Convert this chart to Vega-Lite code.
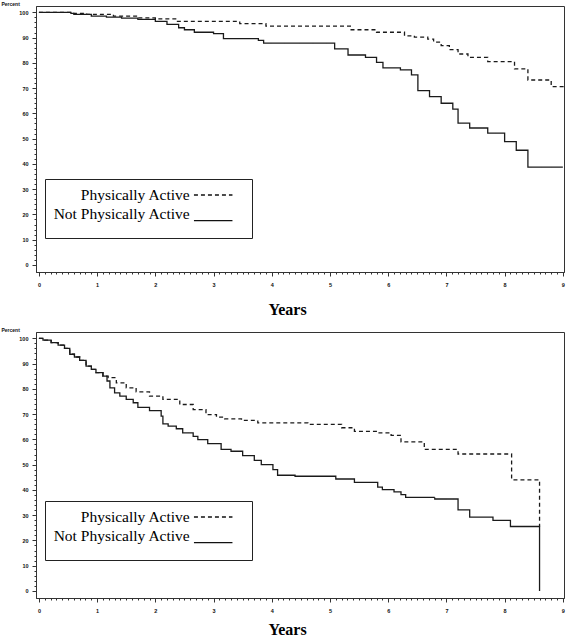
{
  "$schema": "https://vega.github.io/schema/vega-lite/v6.json",
  "background": "white",
  "padding": {"left": 0, "top": 0, "right": 0, "bottom": 0},
  "spacing": 60,
  "bounds": "flush",
  "resolve": {"legend": {"strokeDash": "independent"}},
  "datasets": {
    "top": [
      {"years": 0, "percent": 100, "group": "Physically Active"},
      {"years": 0.56, "percent": 99.6, "group": "Physically Active"},
      {"years": 0.82, "percent": 99.2, "group": "Physically Active"},
      {"years": 1.28, "percent": 98.5, "group": "Physically Active"},
      {"years": 1.69, "percent": 97.8, "group": "Physically Active"},
      {"years": 2.0, "percent": 97.4, "group": "Physically Active"},
      {"years": 2.38, "percent": 96.4, "group": "Physically Active"},
      {"years": 3.45, "percent": 95.5, "group": "Physically Active"},
      {"years": 3.9, "percent": 94.5, "group": "Physically Active"},
      {"years": 5.35, "percent": 93.1, "group": "Physically Active"},
      {"years": 5.8, "percent": 92.1, "group": "Physically Active"},
      {"years": 6.28, "percent": 90.7, "group": "Physically Active"},
      {"years": 6.45, "percent": 90.2, "group": "Physically Active"},
      {"years": 6.68, "percent": 89.4, "group": "Physically Active"},
      {"years": 6.78, "percent": 88.2, "group": "Physically Active"},
      {"years": 6.91, "percent": 86.8, "group": "Physically Active"},
      {"years": 7.05, "percent": 85.2, "group": "Physically Active"},
      {"years": 7.2, "percent": 83.5, "group": "Physically Active"},
      {"years": 7.37, "percent": 82.2, "group": "Physically Active"},
      {"years": 7.71, "percent": 80.5, "group": "Physically Active"},
      {"years": 8.17, "percent": 77.6, "group": "Physically Active"},
      {"years": 8.4, "percent": 73.2, "group": "Physically Active"},
      {"years": 8.8, "percent": 70.6, "group": "Physically Active"},
      {"years": 9.02, "percent": 70.6, "group": "Physically Active"},
      {"years": 0, "percent": 100, "group": "Not Physically Active"},
      {"years": 0.55, "percent": 99.6, "group": "Not Physically Active"},
      {"years": 0.6, "percent": 99.2, "group": "Not Physically Active"},
      {"years": 0.9, "percent": 98.5, "group": "Not Physically Active"},
      {"years": 1.16, "percent": 98.1, "group": "Not Physically Active"},
      {"years": 1.42, "percent": 97.7, "group": "Not Physically Active"},
      {"years": 1.7, "percent": 97.2, "group": "Not Physically Active"},
      {"years": 2.0, "percent": 96.4, "group": "Not Physically Active"},
      {"years": 2.2, "percent": 95.2, "group": "Not Physically Active"},
      {"years": 2.4, "percent": 93.9, "group": "Not Physically Active"},
      {"years": 2.5, "percent": 93.1, "group": "Not Physically Active"},
      {"years": 2.67, "percent": 92.1, "group": "Not Physically Active"},
      {"years": 3.0, "percent": 91.6, "group": "Not Physically Active"},
      {"years": 3.17, "percent": 89.6, "group": "Not Physically Active"},
      {"years": 3.77, "percent": 88.9, "group": "Not Physically Active"},
      {"years": 3.86, "percent": 87.8, "group": "Not Physically Active"},
      {"years": 5.08, "percent": 85.5, "group": "Not Physically Active"},
      {"years": 5.31, "percent": 83.1, "group": "Not Physically Active"},
      {"years": 5.61, "percent": 82.2, "group": "Not Physically Active"},
      {"years": 5.8, "percent": 80.2, "group": "Not Physically Active"},
      {"years": 5.91, "percent": 78.0, "group": "Not Physically Active"},
      {"years": 6.21, "percent": 77.2, "group": "Not Physically Active"},
      {"years": 6.4, "percent": 75.2, "group": "Not Physically Active"},
      {"years": 6.51, "percent": 69.0, "group": "Not Physically Active"},
      {"years": 6.71, "percent": 66.6, "group": "Not Physically Active"},
      {"years": 6.91, "percent": 64.0, "group": "Not Physically Active"},
      {"years": 7.11, "percent": 61.7, "group": "Not Physically Active"},
      {"years": 7.2, "percent": 56.1, "group": "Not Physically Active"},
      {"years": 7.4, "percent": 54.2, "group": "Not Physically Active"},
      {"years": 7.71, "percent": 52.2, "group": "Not Physically Active"},
      {"years": 8.0, "percent": 48.8, "group": "Not Physically Active"},
      {"years": 8.2, "percent": 45.4, "group": "Not Physically Active"},
      {"years": 8.4, "percent": 38.7, "group": "Not Physically Active"},
      {"years": 9.0, "percent": 38.7, "group": "Not Physically Active"}
    ],
    "bottom": [
      {"years": 0, "percent": 100, "group": "Physically Active"},
      {"years": 0.07, "percent": 99.3, "group": "Physically Active"},
      {"years": 0.21, "percent": 98.3, "group": "Physically Active"},
      {"years": 0.33, "percent": 97.3, "group": "Physically Active"},
      {"years": 0.44, "percent": 96.0, "group": "Physically Active"},
      {"years": 0.53, "percent": 93.7, "group": "Physically Active"},
      {"years": 0.61, "percent": 92.6, "group": "Physically Active"},
      {"years": 0.7, "percent": 91.3, "group": "Physically Active"},
      {"years": 0.81, "percent": 89.0, "group": "Physically Active"},
      {"years": 0.9, "percent": 87.7, "group": "Physically Active"},
      {"years": 0.98, "percent": 86.4, "group": "Physically Active"},
      {"years": 1.1, "percent": 85.0, "group": "Physically Active"},
      {"years": 1.19, "percent": 84.4, "group": "Physically Active"},
      {"years": 1.33, "percent": 82.4, "group": "Physically Active"},
      {"years": 1.5, "percent": 80.4, "group": "Physically Active"},
      {"years": 1.67, "percent": 78.8, "group": "Physically Active"},
      {"years": 1.9, "percent": 77.1, "group": "Physically Active"},
      {"years": 2.13, "percent": 75.8, "group": "Physically Active"},
      {"years": 2.42, "percent": 73.8, "group": "Physically Active"},
      {"years": 2.65, "percent": 71.8, "group": "Physically Active"},
      {"years": 2.87, "percent": 69.8, "group": "Physically Active"},
      {"years": 3.05, "percent": 68.8, "group": "Physically Active"},
      {"years": 3.19, "percent": 68.1, "group": "Physically Active"},
      {"years": 3.48, "percent": 67.5, "group": "Physically Active"},
      {"years": 3.76, "percent": 66.5, "group": "Physically Active"},
      {"years": 4.62, "percent": 65.9, "group": "Physically Active"},
      {"years": 5.2, "percent": 64.6, "group": "Physically Active"},
      {"years": 5.42, "percent": 63.2, "group": "Physically Active"},
      {"years": 5.82, "percent": 62.6, "group": "Physically Active"},
      {"years": 6.05, "percent": 61.6, "group": "Physically Active"},
      {"years": 6.22, "percent": 59.0, "group": "Physically Active"},
      {"years": 6.62, "percent": 56.0, "group": "Physically Active"},
      {"years": 7.2, "percent": 54.2, "group": "Physically Active"},
      {"years": 8.12, "percent": 44.0, "group": "Physically Active"},
      {"years": 8.6, "percent": 25.5, "group": "Physically Active"},
      {"years": 0, "percent": 100, "group": "Not Physically Active"},
      {"years": 0.07, "percent": 99.3, "group": "Not Physically Active"},
      {"years": 0.21, "percent": 98.3, "group": "Not Physically Active"},
      {"years": 0.33, "percent": 97.3, "group": "Not Physically Active"},
      {"years": 0.44, "percent": 96.0, "group": "Not Physically Active"},
      {"years": 0.53, "percent": 93.7, "group": "Not Physically Active"},
      {"years": 0.61, "percent": 92.6, "group": "Not Physically Active"},
      {"years": 0.7, "percent": 91.3, "group": "Not Physically Active"},
      {"years": 0.81, "percent": 89.0, "group": "Not Physically Active"},
      {"years": 0.9, "percent": 87.7, "group": "Not Physically Active"},
      {"years": 0.98, "percent": 86.4, "group": "Not Physically Active"},
      {"years": 1.1, "percent": 85.0, "group": "Not Physically Active"},
      {"years": 1.17, "percent": 83.1, "group": "Not Physically Active"},
      {"years": 1.22, "percent": 80.4, "group": "Not Physically Active"},
      {"years": 1.3, "percent": 78.4, "group": "Not Physically Active"},
      {"years": 1.39, "percent": 77.1, "group": "Not Physically Active"},
      {"years": 1.5, "percent": 75.8, "group": "Not Physically Active"},
      {"years": 1.62, "percent": 74.5, "group": "Not Physically Active"},
      {"years": 1.7, "percent": 72.7, "group": "Not Physically Active"},
      {"years": 1.9, "percent": 71.4, "group": "Not Physically Active"},
      {"years": 2.1, "percent": 69.2, "group": "Not Physically Active"},
      {"years": 2.13, "percent": 66.1, "group": "Not Physically Active"},
      {"years": 2.22, "percent": 65.2, "group": "Not Physically Active"},
      {"years": 2.36, "percent": 64.2, "group": "Not Physically Active"},
      {"years": 2.47, "percent": 62.6, "group": "Not Physically Active"},
      {"years": 2.65, "percent": 61.2, "group": "Not Physically Active"},
      {"years": 2.73, "percent": 59.9, "group": "Not Physically Active"},
      {"years": 2.9, "percent": 58.3, "group": "Not Physically Active"},
      {"years": 3.13, "percent": 56.0, "group": "Not Physically Active"},
      {"years": 3.3, "percent": 55.3, "group": "Not Physically Active"},
      {"years": 3.5, "percent": 53.6, "group": "Not Physically Active"},
      {"years": 3.7, "percent": 51.7, "group": "Not Physically Active"},
      {"years": 3.82, "percent": 50.0, "group": "Not Physically Active"},
      {"years": 4.02, "percent": 48.0, "group": "Not Physically Active"},
      {"years": 4.1, "percent": 45.8, "group": "Not Physically Active"},
      {"years": 4.4, "percent": 45.4, "group": "Not Physically Active"},
      {"years": 5.1, "percent": 44.3, "group": "Not Physically Active"},
      {"years": 5.42, "percent": 43.0, "group": "Not Physically Active"},
      {"years": 5.82, "percent": 41.1, "group": "Not Physically Active"},
      {"years": 5.9, "percent": 40.1, "group": "Not Physically Active"},
      {"years": 6.1, "percent": 39.2, "group": "Not Physically Active"},
      {"years": 6.22, "percent": 38.1, "group": "Not Physically Active"},
      {"years": 6.3, "percent": 37.0, "group": "Not Physically Active"},
      {"years": 6.8, "percent": 36.4, "group": "Not Physically Active"},
      {"years": 7.2, "percent": 32.1, "group": "Not Physically Active"},
      {"years": 7.4, "percent": 29.2, "group": "Not Physically Active"},
      {"years": 7.8, "percent": 27.9, "group": "Not Physically Active"},
      {"years": 8.1, "percent": 25.5, "group": "Not Physically Active"},
      {"years": 8.6, "percent": 0, "group": "Not Physically Active"}
    ]
  },
  "config": {
    "view": {"stroke": "#333", "strokeWidth": 1},
    "font": "Liberation Sans",
    "axis": {
      "grid": false,
      "domainColor": "#333",
      "tickColor": "#333",
      "labelColor": "#111",
      "labelFont": "Liberation Sans",
      "labelFontSize": 5.5,
      "labelFontWeight": "bold",
      "labelOverlap": false,
      "labelFlush": false,
      "labelBound": false
    },
    "legend": {
      "orient": "none",
      "title": null,
      "strokeColor": "#222",
      "padding": 8,
      "symbolType": "M-2.75,0H2.75",
      "symbolSize": 196,
      "symbolStrokeWidth": 1.3,
      "symbolStrokeColor": "#111",
      "labelFont": "Liberation Serif",
      "labelFontSize": 15.5,
      "labelColor": "#000",
      "labelAlign": "right",
      "labelOffset": -31.5,
      "symbolOffset": 152.2,
      "rowPadding": 2,
      "labelLimit": 400
    }
  },
  "vconcat": [
    {
      "width": 528,
      "height": 266,
      "data": {"name": "top"},
      "mark": {"type": "line", "interpolate": "step-after", "color": "#1a1a1a", "strokeWidth": 1.3},
      "encoding": {
        "x": {
          "field": "years", "type": "quantitative",
          "scale": {"domain": [-0.05, 9.02], "nice": false, "zero": false},
          "axis": {
            "values": [0,0.1,0.2,0.3,0.4,0.5,0.6,0.7,0.8,0.9,1,1.1,1.2,1.3,1.4,1.5,1.6,1.7,1.8,1.9,2,2.1,2.2,2.3,2.4,2.5,2.6,2.7,2.8,2.9,3,3.1,3.2,3.3,3.4,3.5,3.6,3.7,3.8,3.9,4,4.1,4.2,4.3,4.4,4.5,4.6,4.7,4.8,4.9,5,5.1,5.2,5.3,5.4,5.5,5.6,5.7,5.8,5.9,6,6.1,6.2,6.3,6.4,6.5,6.6,6.7,6.8,6.9,7,7.1,7.2,7.3,7.4,7.5,7.6,7.7,7.8,7.9,8,8.1,8.2,8.3,8.4,8.5,8.6,8.7,8.8,8.9,9],
            "labelExpr": "abs(datum.value - round(datum.value)) < 0.001 ? format(datum.value, 'd') : ''",
            "tickSize": {"condition": {"test": "abs(datum.value - round(datum.value)) < 0.001", "value": 4}, "value": 2},
            "labelPadding": 6,
            "title": "Years",
            "titleFont": "Liberation Serif",
            "titleFontSize": 16,
            "titleFontWeight": "bold",
            "titleColor": "#000",
            "titleX": 251,
            "titlePadding": 14
          }
        },
        "y": {
          "field": "percent", "type": "quantitative",
          "scale": {"domain": [-2.8, 102.5], "nice": false, "zero": false},
          "axis": {
            "values": [0,2,4,6,8,10,12,14,16,18,20,22,24,26,28,30,32,34,36,38,40,42,44,46,48,50,52,54,56,58,60,62,64,66,68,70,72,74,76,78,80,82,84,86,88,90,92,94,96,98,100],
            "labelExpr": "datum.value % 10 === 0 ? format(datum.value, 'd') : ''",
            "tickSize": {"condition": {"test": "datum.value % 10 === 0", "value": 4}, "value": 2},
            "labelPadding": 4,
            "title": "Percent",
            "titleAngle": 0,
            "titleAlign": "left",
            "titleBaseline": "alphabetic",
            "titleX": -35,
            "titleY": -1,
            "titleFontSize": 5,
            "titleFontWeight": "bold",
            "titleColor": "#111"
          }
        },
        "strokeDash": {
          "field": "group", "type": "nominal",
          "scale": {"domain": ["Physically Active", "Not Physically Active"], "range": [[4, 3], [1, 0]]},
          "legend": {
            "legendX": 9, "legendY": 173,
            "encode": {"symbols": {"update": {
              "shape": {"signal": "datum.value === 'Not Physically Active' ? 'M-2.75,0.95H2.75M3.95,1.9' : 'M-2.75,0H2.75'"},
              "strokeDash": {"signal": "datum.value === 'Physically Active' ? [4, 1.6] : [1, 0]"}
            }}}
          }
        }
      }
    },
    {
      "width": 528,
      "height": 266,
      "data": {"name": "bottom"},
      "mark": {"type": "line", "interpolate": "step-after", "color": "#1a1a1a", "strokeWidth": 1.3},
      "encoding": {
        "x": {
          "field": "years", "type": "quantitative",
          "scale": {"domain": [-0.05, 9.02], "nice": false, "zero": false},
          "axis": {
            "values": [0,0.1,0.2,0.3,0.4,0.5,0.6,0.7,0.8,0.9,1,1.1,1.2,1.3,1.4,1.5,1.6,1.7,1.8,1.9,2,2.1,2.2,2.3,2.4,2.5,2.6,2.7,2.8,2.9,3,3.1,3.2,3.3,3.4,3.5,3.6,3.7,3.8,3.9,4,4.1,4.2,4.3,4.4,4.5,4.6,4.7,4.8,4.9,5,5.1,5.2,5.3,5.4,5.5,5.6,5.7,5.8,5.9,6,6.1,6.2,6.3,6.4,6.5,6.6,6.7,6.8,6.9,7,7.1,7.2,7.3,7.4,7.5,7.6,7.7,7.8,7.9,8,8.1,8.2,8.3,8.4,8.5,8.6,8.7,8.8,8.9,9],
            "labelExpr": "abs(datum.value - round(datum.value)) < 0.001 ? format(datum.value, 'd') : ''",
            "tickSize": {"condition": {"test": "abs(datum.value - round(datum.value)) < 0.001", "value": 4}, "value": 2},
            "labelPadding": 6,
            "title": "Years",
            "titleFont": "Liberation Serif",
            "titleFontSize": 16,
            "titleFontWeight": "bold",
            "titleColor": "#000",
            "titleX": 251,
            "titlePadding": 8
          }
        },
        "y": {
          "field": "percent", "type": "quantitative",
          "scale": {"domain": [-2.8, 102.5], "nice": false, "zero": false},
          "axis": {
            "values": [0,2,4,6,8,10,12,14,16,18,20,22,24,26,28,30,32,34,36,38,40,42,44,46,48,50,52,54,56,58,60,62,64,66,68,70,72,74,76,78,80,82,84,86,88,90,92,94,96,98,100],
            "labelExpr": "datum.value % 10 === 0 ? format(datum.value, 'd') : ''",
            "tickSize": {"condition": {"test": "datum.value % 10 === 0", "value": 4}, "value": 2},
            "labelPadding": 4,
            "title": "Percent",
            "titleAngle": 0,
            "titleAlign": "left",
            "titleBaseline": "alphabetic",
            "titleX": -35,
            "titleY": -1,
            "titleFontSize": 5,
            "titleFontWeight": "bold",
            "titleColor": "#111"
          }
        },
        "strokeDash": {
          "field": "group", "type": "nominal",
          "scale": {"domain": ["Physically Active", "Not Physically Active"], "range": [[4, 3], [1, 0]]},
          "legend": {
            "legendX": 9, "legendY": 169,
            "encode": {"symbols": {"update": {
              "shape": {"signal": "datum.value === 'Not Physically Active' ? 'M-2.75,0.95H2.75M3.95,1.9' : 'M-2.75,0H2.75'"},
              "strokeDash": {"signal": "datum.value === 'Physically Active' ? [4, 1.6] : [1, 0]"}
            }}}
          }
        }
      }
    }
  ]
}
